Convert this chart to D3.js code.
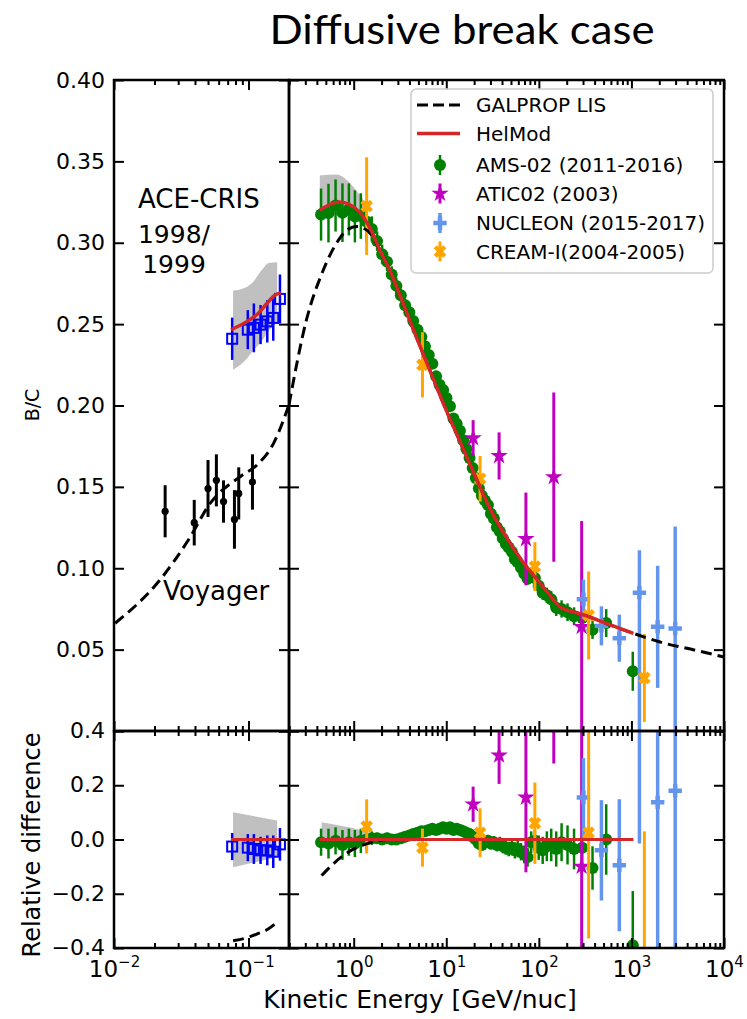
<!DOCTYPE html>
<html><head><meta charset="utf-8">
<script src="https://cdn.jsdelivr.net/npm/d3@7"></script>
<style>body{margin:0;background:#fff}svg{display:block}</style>
</head><body><svg id="c" width="747" height="1019"></svg>
<script>
// ---------------- DATA ----------------
// HelMod (modulated) B/C
const helmodLeftE  = [0.0741, 0.0976, 0.119, 0.138, 0.159, 0.174];
const helmodLeftBC = [0.2466, 0.2517, 0.2569, 0.263, 0.268, 0.2692];
const helmodE  = [0.43,0.55,0.70,0.90,1.15,1.5,1.9,2.44,3.3,4.72,6.5,10,13.8,22.7,31.3,47,70,100,140,171,250,345,600,1050];
const helmodBC = [0.320,0.3235,0.325,0.3235,0.319,0.309,0.296,0.2835,0.265,0.2425,0.223,0.197,0.179,0.151,0.134,0.117,0.1025,0.0918,0.0815,0.076,0.0728,0.0703,0.065,0.060];
// GALPROP LIS
const lisLeftE  = [0.0102,0.022,0.0358,0.052,0.0871,0.116,0.1542,0.2];
const lisLeftBC = [0.0662,0.0929,0.1175,0.140,0.1564,0.1636,0.177,0.2005];
const lisE  = [0.2,0.31,0.46,0.656,0.85,1.08,1.5,1.9,2.44,3.3,4.72,6.5,10,13.8,22.7,31.3,47,70,100,140,171,250,345,600,1050,2000,5000,10000];
const lisBC = [0.2005,0.253,0.282,0.300,0.308,0.310,0.306,0.296,0.2835,0.265,0.2425,0.223,0.197,0.179,0.151,0.134,0.117,0.1025,0.0918,0.0815,0.076,0.0728,0.0703,0.065,0.060,0.0548,0.0495,0.0455];
// uncertainty bands
const bandLeftE  = [0.0768,0.0978,0.1064,0.1264,0.1417,0.1634];
const bandLeftHi = [0.2706,0.2730,0.2753,0.2835,0.2876,0.2880];
const bandLeftLo = [0.222,0.229,0.233,0.240,0.246,0.251];
const bandMainE  = [0.43,0.65,0.905,1.11,1.26,1.4];
const bandMainHi = [0.3413,0.342,0.3368,0.3307,0.3266,0.312];
const bandMainLo = [0.313,0.318,0.318,0.314,0.311,0.311];
// relative difference panel: model curves and bands
const relLeftE = [0.0741, 0.174];
const relLeftZero = [0, 0];
const relMainE = [0.43, 1050];
const relMainZero = [0, 0];
const lisRelLeftE = [0.0768,0.0976,0.116,0.14,0.163];
const lisRelLeft  = [-0.373,-0.362,-0.348,-0.33,-0.305];
const lisRelE = [0.45,0.6,0.84,1.37,2.44,3.0];
const lisRel  = [-0.133,-0.09,-0.05,-0.016,0.0,0.0];
const bandRelLeftE  = [0.0768,0.1634];
const bandRelLeftHi = [0.1007,0.070];
const bandRelLeftLo = [-0.102,-0.065];
const bandRelMainE  = [0.45,1.07,2.0,4.0];
const bandRelMainHi = [0.064,0.039,0.015,0.003];
const bandRelMainLo = [-0.03,-0.02,-0.01,-0.003];
// Voyager
const voyE   = [0.024,0.0395,0.050,0.0577,0.0652,0.0786,0.0846,0.107];
const voyBC  = [0.135,0.128,0.149,0.154,0.141,0.130,0.146,0.153];
const voyErr = [0.016,0.014,0.0175,0.016,0.013,0.018,0.016,0.017];
// ACE-CRIS
const aceE   = [0.0756,0.0988,0.1096,0.1229,0.1379,0.1528,0.1713];
const aceBC  = [0.241,0.2466,0.2477,0.2497,0.2517,0.2538,0.2655];
const aceErr = [0.013,0.012,0.015,0.012,0.013,0.014,0.015];
const aceRel    = [-0.026,-0.03,-0.035,-0.04,-0.04,-0.045,-0.018];
const aceRelErr = [0.05,0.05,0.055,0.05,0.055,0.06,0.06];
// AMS-02
const amsE = [0.444,0.534,0.637,0.756,0.887,1.030,1.194,1.371,1.569,1.789,2.029,2.291,2.574,2.889,3.229,3.595,3.987,4.395,4.888,5.382,5.877,6.472,7.067,7.763,8.459,9.25,10.05,10.95,11.95,12.94,14.04,15.24,16.49,17.84,19.28,20.83,22.48,24.23,26.13,28.18,30.33,32.68,35.23,37.88,40.78,43.93,47.28,51.1,55.1,59.1,64.1,69.6,75.6,82.6,90.6,99.6,110,122,136,154,176,204,240,294,380,534,1034];
const amsBC = [0.3173,0.3182,0.3229,0.3185,0.3205,0.3162,0.3164,0.313,0.3085,0.301,0.293,0.2884,0.2805,0.2735,0.2678,0.2616,0.2573,0.2519,0.2465,0.2421,0.2364,0.2311,0.2257,0.2179,0.2127,0.2095,0.2046,0.1996,0.192,0.1888,0.1845,0.1787,0.1732,0.1678,0.1616,0.1555,0.1492,0.1446,0.1416,0.1388,0.1335,0.1305,0.1252,0.1226,0.1185,0.1149,0.1127,0.1101,0.1056,0.1037,0.1003,0.0966,0.0935,0.0965,0.094,0.0892,0.085,0.0834,0.0809,0.0758,0.075,0.073,0.0705,0.0695,0.0622,0.0663,0.0367];
const amsErr = [0.016,0.018,0.016,0.018,0.016,0.016,0.014,0.0125,0.0077,0.006,0.0059,0.0057,0.005,0.005,0.004,0.0039,0.0038,0.0037,0.0036,0.0035,0.0034,0.0033,0.0033,0.0032,0.0031,0.003,0.003,0.0029,0.0028,0.0027,0.0027,0.0026,0.0025,0.0025,0.0024,0.0024,0.003,0.003,0.003,0.003,0.003,0.003,0.003,0.003,0.0031,0.0031,0.0032,0.0032,0.0033,0.0033,0.0034,0.0034,0.0035,0.0039,0.004,0.0041,0.0044,0.0047,0.005,0.0051,0.0053,0.0054,0.0055,0.0057,0.0056,0.0086,0.012];
const amsRel = [-0.01,-0.015,-0.005,-0.02,-0.01,-0.015,-0.005,0.0,0.005,0.005,0.0,0.005,0.0,0.0,0.005,0.01,0.015,0.02,0.025,0.03,0.03,0.035,0.04,0.035,0.04,0.045,0.04,0.045,0.035,0.04,0.035,0.03,0.025,0.02,0.01,0.0,-0.015,-0.02,-0.01,-0.005,-0.015,-0.01,-0.02,-0.015,-0.025,-0.03,-0.035,-0.03,-0.04,-0.035,-0.045,-0.055,-0.065,-0.01,-0.005,-0.03,-0.04,-0.025,-0.02,-0.035,-0.01,-0.02,-0.035,-0.03,-0.105,0.0,-0.39];
const amsRelErr = [0.05,0.055,0.05,0.055,0.05,0.05,0.045,0.04,0.025,0.02,0.02,0.02,0.018,0.018,0.015,0.015,0.015,0.015,0.015,0.015,0.015,0.015,0.015,0.015,0.015,0.015,0.015,0.015,0.015,0.015,0.015,0.015,0.015,0.015,0.015,0.015,0.02,0.02,0.021,0.022,0.022,0.023,0.024,0.025,0.026,0.026,0.027,0.029,0.03,0.031,0.032,0.033,0.035,0.04,0.042,0.045,0.05,0.055,0.06,0.065,0.07,0.072,0.075,0.08,0.08,0.13,0.2];
// ATIC02
const aticE = [19.5,37.2,72.5,145,290];
const aticBC = [0.180,0.169,0.118,0.156,0.064];
const aticErr = [0.011,0.0145,0.0285,0.052,0.065];
const aticRel = [0.13,0.31,0.155,1.0,-0.10];
const aticRelErr = [0.065,0.105,0.276,0.72,0.9];
// NUCLEON
const nucE = [303,474,740,1220,1920,2970];
const nucBC = [0.081,0.0646,0.057,0.085,0.064,0.063];
const nucErrLo = [0.012,0.012,0.0145,0.09,0.0375,0.07];
const nucErrHi = [0.012,0.012,0.0145,0.026,0.0375,0.0626];
const nucRel = [0.155,-0.04,-0.095,0.44,0.137,0.18];
const nucRelErrLo = [0.15,0.185,0.243,0.455,0.6,0.7];
const nucRelErrHi = [0.145,0.185,0.243,0.4,0.6,0.7];
// CREAM-I
const creamE = [1.38,5.53,23.2,90.6,345,1380];
const creamBC = [0.3225,0.225,0.155,0.101,0.071,0.0326];
const creamErr = [0.03,0.02,0.014,0.015,0.027,0.027];
const creamRel = [0.048,-0.03,0.025,0.06,0.025,-0.44];
const creamRelErr = [0.1,0.07,0.09,0.15,0.39,0.47];
// ticks / labels
const topYTicks = [0.05,0.10,0.15,0.20,0.25,0.30,0.35,0.40];
const botYTicks = [-0.4,-0.2,0.0,0.2,0.4];
const legendLabels = ["GALPROP LIS","HelMod","AMS-02 (2011-2016)","ATIC02 (2003)","NUCLEON (2015-2017)","CREAM-I(2004-2005)"];

// ---------------- COLORS ----------------
const C = {green:'#008000', mag:'#bf00bf', nuc:'#6495ed', orange:'#ffa500', red:'#d62728', band:'#c0c0c0', ace:'#0000ff', black:'#000'};

// ---------------- SCALES ----------------
const svg = d3.select('#c');
const xL = d3.scaleLog().domain([0.01, 0.2]).range([114, 289]);
const xM = d3.scaleLog().domain([0.2, 1e4]).range([289, 724]);
const yT = d3.scaleLinear().domain([0, 0.40]).range([731, 80]);
const yB = d3.scaleLinear().domain([-0.4, 0.4]).range([948, 731]);
const P = {
  TL:{x:xL,y:yT,id:'cTL'}, TM:{x:xM,y:yT,id:'cTM'},
  BL:{x:xL,y:yB,id:'cBL'}, BM:{x:xM,y:yB,id:'cBM'}
};
const defs = svg.append('defs');
Object.values(P).forEach(p=>{
  const [x0,x1]=p.x.range(), [y1,y0]=p.y.range();
  defs.append('clipPath').attr('id',p.id).append('rect')
    .attr('x',x0).attr('y',y0).attr('width',x1-x0).attr('height',y1-y0);
  p.g = svg.append('g').attr('clip-path',`url(#${p.id})`);
});

// ---------------- HELPERS ----------------
function band(p,E,lo,hi){
  p.g.append('path').datum(E.map((e,i)=>[e,lo[i],hi[i]]))
    .attr('d',d3.area().x(d=>p.x(d[0])).y0(d=>p.y(d[1])).y1(d=>p.y(d[2])).curve(d3.curveMonotoneX))
    .attr('fill',C.band).attr('stroke','none');
}
function curve(p,E,V,color,w,dash){
  const path = p.g.append('path').datum(E.map((e,i)=>[e,V[i]]))
    .attr('d',d3.line().x(d=>p.x(d[0])).y(d=>p.y(d[1])).curve(d3.curveMonotoneX))
    .attr('fill','none').attr('stroke',color).attr('stroke-width',w);
  if(dash) path.attr('stroke-dasharray',dash);
}
function errbars(p,E,V,lo,hi,color,w){
  p.g.append('g').selectAll('line').data(E).join('line')
    .attr('x1',d=>p.x(d)).attr('x2',d=>p.x(d))
    .attr('y1',(d,i)=>p.y(V[i]-lo[i])).attr('y2',(d,i)=>p.y(V[i]+hi[i]))
    .attr('stroke',color).attr('stroke-width',w);
}
function symbols(p,E,V,type,size,color,rot){
  p.g.append('g').selectAll('path').data(E).join('path')
    .attr('d',d3.symbol().type(type).size(size))
    .attr('transform',(d,i)=>`translate(${p.x(d)},${p.y(V[i])})`+(rot?` rotate(${rot})`:''))
    .attr('fill',color);
}
function series(p,E,V,lo,hi,kind){
  const k = KINDS[kind];
  errbars(p,E,V,lo,hi,k.color,k.w);
  if(kind==='ams'){
    p.g.append('g').selectAll('circle').data(E).join('circle')
      .attr('cx',d=>p.x(d)).attr('cy',(d,i)=>p.y(V[i])).attr('r',6).attr('fill',C.green);
  } else if(kind==='ace'){
    p.g.append('g').selectAll('rect').data(E).join('rect')
      .attr('x',d=>p.x(d)-5).attr('y',(d,i)=>p.y(V[i])-5).attr('width',10).attr('height',10)
      .attr('fill','none').attr('stroke',C.ace).attr('stroke-width',2);
  } else if(kind==='voy'){
    p.g.append('g').selectAll('circle').data(E).join('circle')
      .attr('cx',d=>p.x(d)).attr('cy',(d,i)=>p.y(V[i])).attr('r',3.6).attr('fill','#000');
  } else {
    symbols(p,E,V,k.type,k.size,k.color,k.rot);
  }
}
const KINDS = {
  ams:{color:C.green,w:2.5},
  atic:{color:C.mag,w:3,type:d3.symbolStar,size:95},
  nuc:{color:C.nuc,w:3.5,type:d3.symbolCross,size:100},
  cream:{color:C.orange,w:3,type:d3.symbolCross,size:100,rot:45},
  ace:{color:C.ace,w:2.5},
  voy:{color:'#000',w:3}
};

// ---------------- TOP LEFT ----------------
band(P.TL,bandLeftE,bandLeftLo,bandLeftHi);
series(P.TL,voyE,voyBC,voyErr,voyErr,'voy');
series(P.TL,aceE,aceBC,aceErr,aceErr,'ace');
curve(P.TL,lisLeftE,lisLeftBC,'#000',3,'11,6');
curve(P.TL,helmodLeftE,helmodLeftBC,C.red,3.5);

// ---------------- TOP MAIN ----------------
band(P.TM,bandMainE,bandMainLo,bandMainHi);
series(P.TM,amsE,amsBC,amsErr,amsErr,'ams');
series(P.TM,aticE,aticBC,aticErr,aticErr,'atic');
series(P.TM,nucE,nucBC,nucErrLo,nucErrHi,'nuc');
series(P.TM,creamE,creamBC,creamErr,creamErr,'cream');
curve(P.TM,lisE,lisBC,'#000',3,'11,6');
curve(P.TM,helmodE,helmodBC,C.red,3.5);

// ---------------- BOTTOM LEFT ----------------
band(P.BL,bandRelLeftE,bandRelLeftLo,bandRelLeftHi);
series(P.BL,aceE,aceRel,aceRelErr,aceRelErr,'ace');
curve(P.BL,lisRelLeftE,lisRelLeft,'#000',3,'11,6');
curve(P.BL,relLeftE,relLeftZero,C.red,3);

// ---------------- BOTTOM MAIN ----------------
band(P.BM,bandRelMainE,bandRelMainLo,bandRelMainHi);
series(P.BM,amsE,amsRel,amsRelErr,amsRelErr,'ams');
series(P.BM,aticE,aticRel,aticRelErr,aticRelErr,'atic');
series(P.BM,nucE,nucRel,nucRelErrLo,nucRelErrHi,'nuc');
series(P.BM,creamE,creamRel,creamRelErr,creamRelErr,'cream');
curve(P.BM,lisRelE,lisRel,'#000',3,'11,6');
curve(P.BM,relMainE,relMainZero,C.red,3);

// ---------------- AXES / TICKS ----------------
function logTicks(dom){
  const [a,b]=dom, maj=[], min=[];
  for(let k=Math.floor(Math.log10(a));k<=Math.ceil(Math.log10(b));k++)
    for(let m=1;m<10;m++){const v=m*Math.pow(10,k); if(v<a*0.999||v>b*1.001) continue; (m===1?maj:min).push(v);}
  return {maj,min};
}
function styleAxis(g){ g.select('.domain').remove(); g.selectAll('line').attr('stroke','#000').attr('stroke-width',2); g.selectAll('text').remove(); }
function panelTicks(p, yTicks){
  const [x0,x1]=p.x.range(), [y1,y0]=p.y.range();
  const t = logTicks(p.x.domain());
  [[t.maj,10],[t.min,5]].forEach(([vals,len])=>{
    svg.append('g').attr('transform',`translate(0,${y1})`).call(d3.axisBottom(p.x).tickValues(vals).tickSize(-len).tickSizeOuter(0)).call(styleAxis);
    svg.append('g').attr('transform',`translate(0,${y0})`).call(d3.axisTop(p.x).tickValues(vals).tickSize(-len).tickSizeOuter(0)).call(styleAxis);
  });
  svg.append('g').attr('transform',`translate(${x0},0)`).call(d3.axisLeft(p.y).tickValues(yTicks).tickSize(-10).tickSizeOuter(0)).call(styleAxis);
  svg.append('g').attr('transform',`translate(${x1},0)`).call(d3.axisRight(p.y).tickValues(yTicks).tickSize(-10).tickSizeOuter(0)).call(styleAxis);
  svg.append('rect').attr('x',x0).attr('y',y0).attr('width',x1-x0).attr('height',y1-y0)
    .attr('fill','none').attr('stroke','#000').attr('stroke-width',2.5);
}
panelTicks(P.TL,[0].concat(topYTicks));
panelTicks(P.TM,[0].concat(topYTicks));
panelTicks(P.BL,botYTicks);
panelTicks(P.BM,botYTicks);

const FONT = 'DejaVu Sans';
// y tick labels
svg.append('g').attr('transform','translate(114,0)')
  .call(d3.axisLeft(yT).tickValues(topYTicks).tickSize(0).tickPadding(9).tickFormat(d3.format('.2f')))
  .call(g=>g.select('.domain').remove())
  .selectAll('text').attr('font-family',FONT).attr('font-size',22).attr('fill','#000');
svg.append('g').attr('transform','translate(114,0)')
  .call(d3.axisLeft(yB).tickValues(botYTicks).tickSize(0).tickPadding(9).tickFormat(d=>d3.format('.1f')(d).replace('-','\u2212')))
  .call(g=>g.select('.domain').remove())
  .selectAll('text').attr('font-family',FONT).attr('font-size',22).attr('fill','#000').attr('dy','0.3em');
// x tick labels (10^k)
function xLabels(scale, vals){
  const g = svg.append('g').attr('transform','translate(0,948)')
    .call(d3.axisBottom(scale).tickValues(vals).tickSize(0).tickFormat(''));
  g.select('.domain').remove();
  g.selectAll('text').each(function(d){
    const k = Math.round(Math.log10(d));
    const t = d3.select(this).attr('y',29).attr('dy',0).attr('font-family',FONT).attr('font-size',23).attr('fill','#000');
    t.append('tspan').text('10');
    t.append('tspan').attr('font-size',15).attr('dy',-10).text(k<0?'\u2212'+(-k):String(k));
  });
}
xLabels(xL,[0.01,0.1]);
xLabels(xM,[1,10,100,1000,10000]);

// axis titles
svg.append('text').attr('transform','translate(39,405) rotate(-90)').attr('text-anchor','middle')
  .attr('font-family',FONT).attr('font-size',19).text('B/C');
svg.append('text').attr('transform','translate(40,845) rotate(-90)').attr('text-anchor','middle')
  .attr('font-family',FONT).attr('font-size',24).text('Relative difference');
svg.append('text').attr('x',420).attr('y',1008).attr('text-anchor','middle')
  .attr('font-family',FONT).attr('font-size',25).text('Kinetic Energy [GeV/nuc]');
// title
svg.append('text').attr('x',462).attr('y',44).attr('text-anchor','middle')
  .attr('font-family','Lato, "Open Sans", sans-serif').attr('font-size',40)
  .attr('textLength',385).attr('lengthAdjust','spacingAndGlyphs').text('Diffusive break case');
// annotations
svg.append('text').attr('x',138).attr('y',208).attr('font-family',FONT).attr('font-size',26).text('ACE-CRIS');
svg.append('text').attr('x',174).attr('y',243).attr('text-anchor','middle').attr('font-family',FONT).attr('font-size',25).text('1998/');
svg.append('text').attr('x',174).attr('y',273).attr('text-anchor','middle').attr('font-family',FONT).attr('font-size',25).text('1999');
svg.append('text').attr('x',163).attr('y',600).attr('font-family',FONT).attr('font-size',26).text('Voyager');

// ---------------- LEGEND ----------------
const lg = svg.append('g');
lg.append('rect').attr('x',411).attr('y',89).attr('width',302).attr('height',184).attr('rx',5)
  .attr('fill','#fff').attr('fill-opacity',0.9).attr('stroke','#cccccc').attr('stroke-width',1.5);
const lgY = [105,133.5,165,193.5,223,251.5];
lg.append('line').attr('x1',417).attr('x2',460).attr('y1',lgY[0]).attr('y2',lgY[0]).attr('stroke','#000').attr('stroke-width',3).attr('stroke-dasharray','11,5');
lg.append('line').attr('x1',417).attr('x2',460).attr('y1',lgY[1]).attr('y2',lgY[1]).attr('stroke',C.red).attr('stroke-width',3.5);
const lgKinds = ['ams','atic','nuc','cream'];
lgKinds.forEach((kind,j)=>{
  const y=lgY[j+2], k=KINDS[kind];
  lg.append('line').attr('x1',440).attr('x2',440).attr('y1',y-10).attr('y2',y+10).attr('stroke',k.color).attr('stroke-width',k.w);
  if(kind==='ams') lg.append('circle').attr('cx',440).attr('cy',y).attr('r',6).attr('fill',C.green);
  else lg.append('path').attr('d',d3.symbol().type(k.type).size(k.size)).attr('transform',`translate(440,${y})`+(k.rot?` rotate(${k.rot})`:'')).attr('fill',k.color);
});
lg.selectAll('text.l').data(legendLabels).join('text').attr('class','l')
  .attr('x',476).attr('y',(d,i)=>lgY[i]+7).attr('font-family',FONT).attr('font-size',20).text(d=>d);
</script></body></html>
